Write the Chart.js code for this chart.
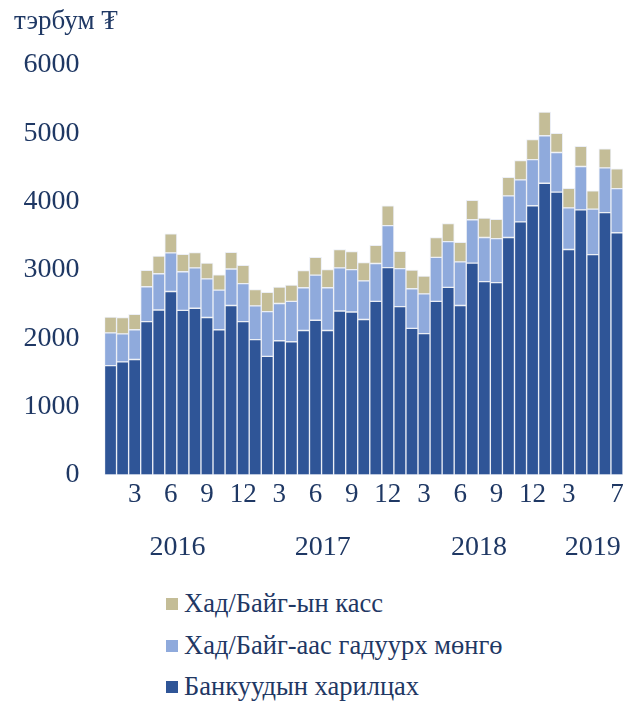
<!DOCTYPE html>
<html>
<head>
<meta charset="utf-8">
<script src="https://cdn.jsdelivr.net/npm/chart.js@4"></script>
<style>
  html, body { margin: 0; padding: 0; background: #ffffff; }
  #wrap { position: relative; width: 644px; height: 702px; }
  #c { position: absolute; left: 0; top: 0; }
  .leg { position: absolute; left: 166px; font-family: "Liberation Serif", "DejaVu Serif", serif; font-size: 26.5px; color: #1F3864; white-space: nowrap; line-height: 30px; }
  .leg span.sw { display: inline-block; width: 12px; height: 12px; margin-right: 6px; vertical-align: 2px; }
</style>
</head>
<body>
<div id="wrap">
  <canvas id="c" width="644" height="575"></canvas>
  <div id="legend"></div>
</div>
<script>
// ---- data ----
const months = [1,2,3,4,5,6,7,8,9,10,11,12, 1,2,3,4,5,6,7,8,9,10,11,12, 1,2,3,4,5,6,7,8,9,10,11,12, 1,2,3,4,5,6,7];
const years  = [2016,2016,2016,2016,2016,2016,2016,2016,2016,2016,2016,2016,
                2017,2017,2017,2017,2017,2017,2017,2017,2017,2017,2017,2017,
                2018,2018,2018,2018,2018,2018,2018,2018,2018,2018,2018,2018,
                2019,2019,2019,2019,2019,2019,2019];
const categories = months.map((m, i) => years[i] + '-' + m);
const tickMonths2019 = [3, 7];
const tickMonthsOther = [3, 6, 9, 12];
const yearLabels = ['2016', '2017', '2018', '2019'];
const yTicks = [0, 1000, 2000, 3000, 4000, 5000, 6000];

const bankDeposits = [1600,1655,1690,2245,2415,2685,2410,2440,2305,2125,2480,2245,
                      1980,1735,1965,1950,2115,2265,2115,2400,2385,2275,2540,3035,
                      2465,2145,2070,2540,2745,2480,3100,2830,2815,3475,3705,3940,
                      4270,4140,3300,3880,3225,3840,3545];
const outsideCash  = [480,410,435,510,530,565,565,590,565,580,535,555,
                      495,655,545,590,625,660,625,630,620,565,555,615,
                      555,580,580,645,670,640,635,645,645,610,615,675,
                      695,580,610,635,665,655,645];
const vaultCash    = [230,240,225,240,260,280,255,225,230,225,245,270,
                      240,285,240,240,250,260,265,270,265,270,265,290,
                      255,275,260,290,265,285,285,285,280,270,280,295,
                      345,280,285,295,270,280,290];

const seriesNames = ['Банкуудын харилцах', 'Хад/Байг-аас гадуурх мөнгө', 'Хад/Байг-ын касс'];
const seriesColors = ['#2F5597', '#8FAADC', '#C4BD97'];
const unitTitle = 'тэрбум ₮';

// ---- styling ----
const FONT = '"Liberation Serif", "DejaVu Serif", serif';
const TEXT = '#1F3864';

const tickText = categories.map((c, i) => {
  const allowed = years[i] === 2019 ? tickMonths2019 : tickMonthsOther;
  return allowed.includes(months[i]) ? String(months[i]) : '';
});

const yearCenters = { '2016': 5.55, '2017': 17.6, '2018': 30.55, '2019': 40.0 };

const extraText = {
  id: 'extraText',
  afterDraw(chart) {
    const ctx = chart.ctx;
    const xs = chart.scales.x;
    ctx.save();
    ctx.fillStyle = TEXT;
    ctx.textBaseline = 'middle';
    ctx.textAlign = 'center';
    ctx.font = '28px ' + FONT;
    const step = xs.getPixelForValue(1) - xs.getPixelForValue(0);
    yearLabels.forEach(y => {
      const k = yearCenters[y];
      const x = xs.getPixelForValue(0) + k * step;
      ctx.fillText(y, x, 548);
    });
    ctx.textAlign = 'left';
    ctx.font = '27px ' + FONT;
    ctx.fillText(unitTitle, 14, 22);
    ctx.restore();
  }
};

const datasets = [
  { label: seriesNames[0], data: bankDeposits, backgroundColor: seriesColors[0] },
  { label: seriesNames[1], data: outsideCash, backgroundColor: seriesColors[1] },
  { label: seriesNames[2], data: vaultCash, backgroundColor: seriesColors[2] }
].map(d => Object.assign(d, {
  borderColor: 'rgba(235,238,245,0.95)',
  borderWidth: 1,
  borderSkipped: false,
  categoryPercentage: 1.0,
  barPercentage: 1.0
}));

new Chart(document.getElementById('c'), {
  type: 'bar',
  data: { labels: categories, datasets },
  options: {
    responsive: false,
    animation: false,
    layout: { padding: { left: 0, right: 21, top: 65, bottom: 0 } },
    plugins: { legend: { display: false }, tooltip: { enabled: false } },
    scales: {
      x: {
        stacked: true,
        grid: { display: false, drawTicks: false },
        border: { display: false },
        afterFit(s) { s.height = 100; },
        ticks: {
          autoSkip: false,
          maxRotation: 0,
          padding: 4,
          color: TEXT,
          font: { family: FONT, size: 27 },
          callback: (v, i) => tickText[i]
        }
      },
      y: {
        stacked: true,
        min: 0,
        max: 6000,
        afterFit(s) { s.width = 104.5; },
        afterBuildTicks(s) { s.ticks = yTicks.map(v => ({ value: v })); },
        grid: { display: false, drawTicks: false },
        border: { display: false },
        ticks: {
          padding: 25,
          color: TEXT,
          font: { family: FONT, size: 28 },
          callback: v => String(v)
        }
      }
    }
  },
  plugins: [extraText]
});

// HTML legend (reverse order)
const legend = document.getElementById('legend');
const rowsY = [603, 645, 686];
[2, 1, 0].forEach((si, r) => {
  const div = document.createElement('div');
  div.className = 'leg';
  div.style.top = (rowsY[r] - 15) + 'px';
  const sw = document.createElement('span');
  sw.className = 'sw';
  sw.style.background = seriesColors[si];
  div.appendChild(sw);
  div.appendChild(document.createTextNode(seriesNames[si]));
  legend.appendChild(div);
});
</script>
</body>
</html>
